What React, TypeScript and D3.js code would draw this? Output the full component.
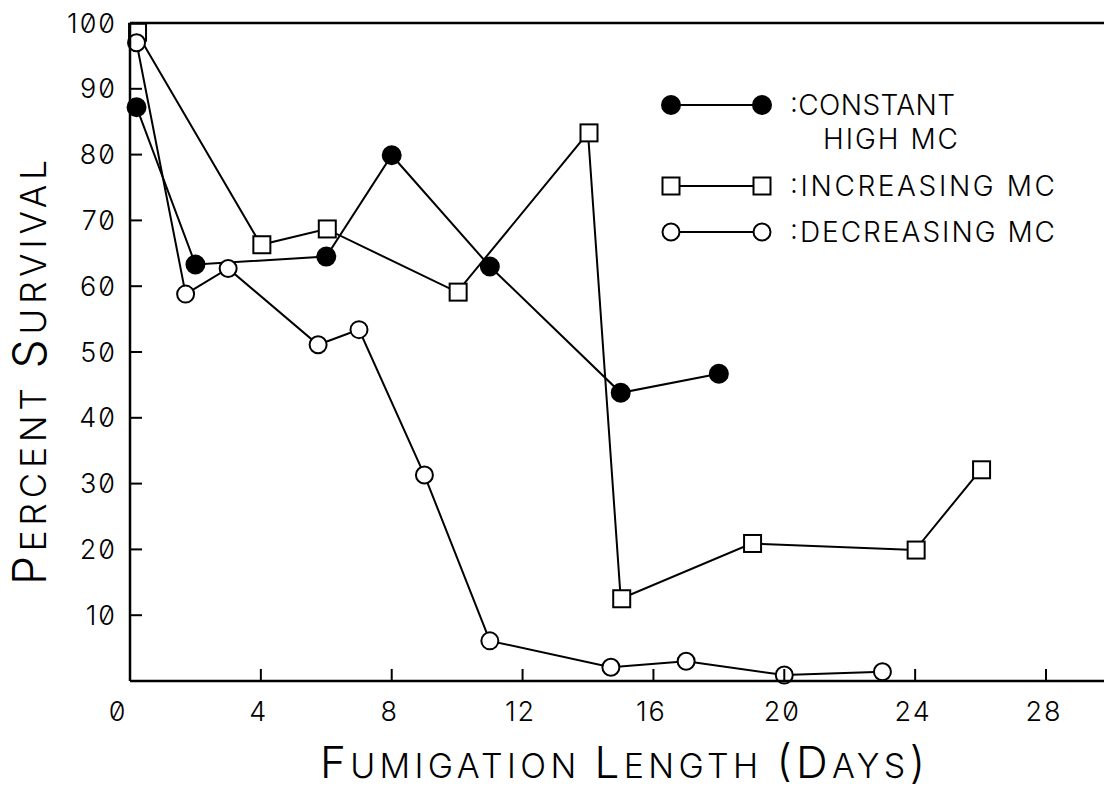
import React from "react";
import * as d3 from "d3";

const xTicks = [0, 4, 8, 12, 16, 20, 24, 28];
const yTicks = [10, 20, 30, 40, 50, 60, 70, 80, 90, 100];

const daysConst = [0.2, 2, 6, 8, 11, 15, 18];
const survConst = [87.2, 63.3, 64.5, 79.9, 63.0, 43.8, 46.7];

const daysInc = [0.2, 4, 6, 10, 14, 15, 19, 24, 26];
const survInc = [98.6, 66.3, 68.7, 59.1, 83.3, 12.5, 20.9, 19.9, 32.1];

const daysDec = [0.2, 1.7, 3, 5.75, 7, 9, 11, 14.7, 17, 20, 23];
const survDec = [97.0, 58.8, 62.7, 51.1, 53.4, 31.3, 6.1, 2.1, 3.0, 0.9, 1.4];

const legendLabels = [":CONSTANT", ":INCREASING MC", ":DECREASING MC"];

const W = 1104;
const H = 788;
const FONT = "Inter, 'DejaVu Sans', sans-serif";

export default function App() {
  const x = d3.scaleLinear().domain([0, 28]).range([130, 1046]);
  const y = d3.scaleLinear().domain([0, 100]).range([681, 23]);
  const line = d3
    .line<[number, number]>()
    .x((d) => x(d[0]))
    .y((d) => y(d[1]));

  const cst: [number, number][] = daysConst.map((d, i) => [d, survConst[i]]);
  const inc: [number, number][] = daysInc.map((d, i) => [d, survInc[i]]);
  const dec: [number, number][] = daysDec.map((d, i) => [d, survDec[i]]);

  const sw = 2;
  const R = 8.5;
  const S = 17;

  const circle = (cx: number, cy: number, filled: boolean, key: any) => (
    <circle key={key} cx={cx} cy={cy} r={filled ? 9 : R} fill={filled ? "#000" : "#fff"} stroke="#000" strokeWidth={sw} />
  );
  const square = (cx: number, cy: number, key: any) => (
    <rect key={key} x={cx - S / 2} y={cy - S / 2} width={S} height={S} fill="#fff" stroke="#000" strokeWidth={sw} />
  );

  const textStyle: React.CSSProperties = {
    fontFamily: FONT,
    fontWeight: 300,
    fontFeatureSettings: '"zero" 1',
  };

  const legX1 = 671;
  const legX2 = 762;
  const legY = [105, 186, 232];

  return (
    <svg
      width={W}
      height={H}
      style={{ position: "absolute", left: 0, top: 0, background: "#fff" }}
      viewBox={`0 0 ${W} ${H}`}
    >
      <rect x={0} y={0} width={W} height={H} fill="#fff" />

      {/* series lines */}
      <path d={line(cst) || ""} fill="none" stroke="#000" strokeWidth={sw} />
      <path d={line(inc) || ""} fill="none" stroke="#000" strokeWidth={sw} />
      <path d={line(dec) || ""} fill="none" stroke="#000" strokeWidth={sw} />

      {/* markers */}
      {inc.map((d, i) => square(x(d[0]) + 1, y(d[1]), "s" + i))}
      {cst.map((d, i) => circle(x(d[0]), y(d[1]), true, "c" + i))}
      {dec.map((d, i) => circle(x(d[0]), y(d[1]), false, "o" + i))}

      {/* frame */}
      <line x1={x(0)} x2={W} y1={y(100)} y2={y(100)} stroke="#000" strokeWidth={2.5} />
      <line x1={x(0)} x2={W} y1={y(0)} y2={y(0)} stroke="#000" strokeWidth={2.5} />
      <line x1={x(0)} x2={x(0)} y1={y(100)} y2={y(0)} stroke="#000" strokeWidth={2.5} />

      {/* y ticks */}
      {yTicks.map((t) => (
        <g key={"yt" + t}>
          <line x1={x(0)} x2={x(0) + 12} y1={y(t)} y2={y(t)} stroke="#000" strokeWidth={2} />
          <text x={117} y={y(t) + 9.5} textAnchor="end" fontSize={27} style={textStyle} letterSpacing={2}>
            {t}
          </text>
        </g>
      ))}

      {/* x ticks */}
      {xTicks.map((t, i) => (
        <g key={"xt" + t}>
          {i > 0 && <line x1={x(t)} x2={x(t)} y1={y(0)} y2={y(0) - 12} stroke="#000" strokeWidth={2} />}
          <text x={x(t) - (i === 0 ? 12 : 2)} y={721} textAnchor="middle" fontSize={27} style={textStyle} letterSpacing={2}>
            {t}
          </text>
        </g>
      ))}

      {/* x title */}
      <text x={320} y={778} style={textStyle} textLength={605} lengthAdjust="spacing">
        <tspan fontSize={44}>F</tspan>
        <tspan fontSize={34}>UMIGATION </tspan>
        <tspan fontSize={44}>L</tspan>
        <tspan fontSize={34}>ENGTH </tspan>
        <tspan fontSize={44}>(D</tspan>
        <tspan fontSize={34}>AYS</tspan>
        <tspan fontSize={44}>)</tspan>
      </text>

      {/* y title */}
      <text
        transform={`translate(46, 585) rotate(-90)`}
        style={textStyle}
        textLength={425}
        lengthAdjust="spacing"
      >
        <tspan fontSize={46}>P</tspan>
        <tspan fontSize={35}>ERCENT </tspan>
        <tspan fontSize={46}>S</tspan>
        <tspan fontSize={35}>URVIVAL</tspan>
      </text>

      {/* legend */}
      {legY.map((ly, i) => (
        <g key={"lg" + i}>
          <line x1={legX1} x2={legX2} y1={ly} y2={ly} stroke="#000" strokeWidth={sw} />
          {i === 0 && circle(legX1, ly, true, "a")}
          {i === 0 && circle(legX2, ly, true, "b")}
          {i === 1 && square(legX1, ly, "a")}
          {i === 1 && square(legX2, ly, "b")}
          {i === 2 && circle(legX1, ly, false, "a")}
          {i === 2 && circle(legX2, ly, false, "b")}
          <text
            x={790}
            y={ly + 10}
            fontSize={28}
            style={textStyle}
            textLength={i === 0 ? 165 : 265}
            lengthAdjust="spacing"
          >
            {legendLabels[i]}
          </text>
        </g>
      ))}
      <text x={823} y={149} fontSize={28} style={textStyle} textLength={135} lengthAdjust="spacing">
        HIGH MC
      </text>
    </svg>
  );
}
